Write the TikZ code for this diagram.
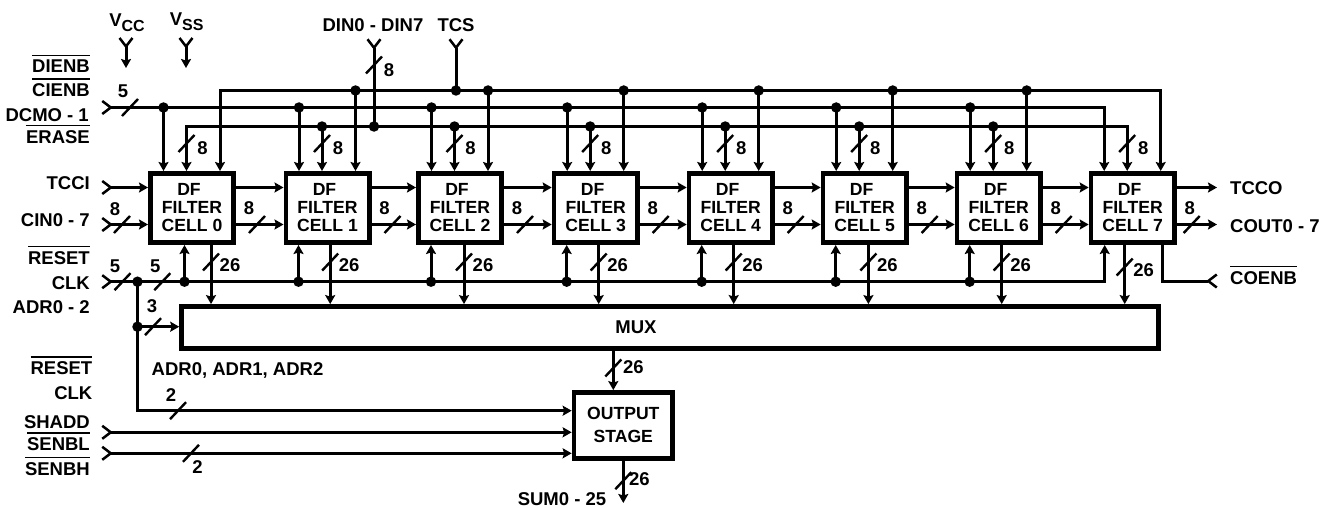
\documentclass[tikz,border=0pt]{standalone}
\usepackage{fontspec}
\setmainfont{Liberation Sans}
\usetikzlibrary{arrows.meta,positioning}

% signal name with a bar above it
\newcommand{\barsig}[1]{\vbox{\hrule height 1.6pt \vskip 4pt \hbox{#1}}}
% text of one filter cell
\newcommand{\cellname}[1]{DF\hspace*{6pt}\\FILTER\\CELL #1}
% bus width mark: name, point on the line, label offset, label
\newcommand{\busmark}[4]{%
  \coordinate (#1) at #2;
  \draw [slash] ([shift={(-8,8.5)}]#1) -- ([shift={(8,-8.5)}]#1);
  \node [sig] (#1 text) at ([shift={#3}]#1) {#4};}

\begin{document}
\begin{tikzpicture}[x=1pt, y=-1pt, node distance=134pt]
    % Define styles
    \tikzstyle{cellbox} = [rectangle, draw, line width=4.6pt, minimum width=83.4pt, minimum height=69.4pt, inner sep=0pt, align=center, font=\bfseries\fontsize{17.6}{18}\selectfont]
    \tikzstyle{bigbox} = [rectangle, draw, line width=4.6pt, inner sep=0pt, align=center, font=\bfseries\fontsize{17.6}{23}\selectfont]
    \tikzstyle{sig} = [inner sep=0pt, font=\bfseries\fontsize{18.5}{18.5}\selectfont]
    \tikzstyle{pinname} = [sig, anchor=base east]
    \tikzstyle{outname} = [sig, anchor=base west]
    \tikzstyle{junction} = [circle, fill=black, minimum size=10.5pt, inner sep=0pt, outer sep=-2.5pt]
    \tikzstyle{wire} = [line width=3pt, >={Stealth[length=9pt,width=10pt,inset=1.5pt]}]
    \tikzstyle{slash} = [line width=2.4pt]
    \tikzstyle{pinfork} = [wire, {Straight Barb[reversed,length=8.5pt,width=13pt,line width=2.5pt]}-]
    \tikzstyle{forkarrow} = [wire, {Straight Barb[reversed,length=8.5pt,width=13pt,line width=2.5pt]}->]

    \path [use as bounding box] (0,0) rectangle (1329,508);

    % Filter cells
    \node [cellbox] (cell0) at (192,208) {\cellname{0}};
    \node [cellbox, right of=cell0, node distance=135.5pt] (cell1) {\cellname{1}};
    \node [cellbox, right of=cell1, node distance=132.5pt] (cell2) {\cellname{2}};
    \node [cellbox, right of=cell2, node distance=135.7pt] (cell3) {\cellname{3}};
    \node [cellbox, right of=cell3, node distance=135pt] (cell4) {\cellname{4}};
    \node [cellbox, right of=cell4] (cell5) {\cellname{5}};
    \node [cellbox, right of=cell5] (cell6) {\cellname{6}};
    \node [cellbox, right of=cell6] (cell7) {\cellname{7}};

    % Mux and output
    \node [bigbox, minimum width=977pt, minimum height=42pt] (mux) at (670,327.4) {};
    \node [sig] (muxname) at (636,327.5) {MUX};
    \node [bigbox, minimum width=98.7pt, minimum height=66pt] (output) at (623.3,425.4) {OUTPUT\\STAGE};

    % Free ends and joins
    \coordinate (vccpin) at (126,36.7);
    \coordinate (vccend) at (126,68);
    \coordinate (vsspin) at (186,36.7);
    \coordinate (vssend) at (186,68);
    \coordinate (dinpin) at (374,38);
    \coordinate (tcspin) at (456,38);
    \coordinate (dcmopin) at (101,107.5);
    \coordinate (tccipin) at (101,187.5);
    \coordinate (cinpin) at (101,224.5);
    \coordinate (clkpin) at (101,281.7);
    \coordinate (shaddpin) at (101,432.3);
    \coordinate (senbpin) at (101,453.3);
    \coordinate (coenbpin) at (1218,281);
    \coordinate (tccoend) at (1217,187.5);
    \coordinate (coutend) at (1217,224.5);
    \coordinate (sumend) at (623.3,503);
    \coordinate (outturn) at (137.5,410.7);
    \node [junction] (tcsjoin) at (456,90.5) {};
    \node [junction] (dinjoin) at (374,126.5) {};
    \node [junction] (clkjoin) at (137.5,281.7) {};
    \node [junction] (adrjoin) at (137.5,326.7) {};

    % Top inputs of the cells
    \foreach \n in {0,...,7} {
        \coordinate (dc\n) at ([xshift=15.5pt]cell\n.north west);
        \coordinate (dn\n) at ([xshift=38.5pt]cell\n.north west);
        \coordinate (tc\n) at ([xshift=72pt]cell\n.north west);
    }
    \draw [forkarrow] (dcmopin) -| (dc7);
    \draw [wire,->] (tcsjoin) -| (tc0);
    \draw [wire,->] (tcsjoin) -| (tc7);
    \draw [wire,->] (dinjoin) -| (dn0);
    \draw [wire,->] (dinjoin) -| (dn7);
    \draw [pinfork] (tcspin) -- (tcsjoin);
    \draw [pinfork] (dinpin) -- (dinjoin);
    \foreach \n in {0,...,6} {
        \node [junction] (jd\n) at (dc\n |- dcmopin) {};
        \draw [wire,->] (jd\n) -- (dc\n);
    }
    \foreach \n in {1,...,6} {
        \node [junction] (jt\n) at (tc\n |- tcsjoin) {};
        \draw [wire,->] (jt\n) -- (tc\n);
        \node [junction] (jn\n) at (dn\n |- dinjoin) {};
        \draw [wire,->] (jn\n) -- (dn\n);
    }
    \foreach \n in {0,...,7} {
        \busmark{mn\n}{([yshift=27.5pt]dn\n)}{(16,5)}{8}
    }

    % Cell to cell
    \draw [forkarrow] (tccipin) -- (cell0.west |- tccipin);
    \draw [forkarrow] (cinpin) -- (cell0.west |- cinpin);
    \foreach \n [remember=\n as \p (initially 0)] in {1,...,7} {
        \draw [wire,->] (cell\p.east |- tccipin) -- (cell\n.west |- tccipin);
        \draw [wire,->] (cell\p.east |- cinpin) -- (cell\n.west |- cinpin);
        \busmark{mc\p}{([xshift=21pt]cell\p.east |- cinpin)}{(-8,-16)}{8}
    }
    \draw [wire,->] (cell7.east |- tccipin) -- (tccoend);
    \draw [wire,->] (cell7.east |- cinpin) -- (coutend);
    \busmark{mc7}{([xshift=15pt]cell7.east |- cinpin)}{(-2,-16)}{8}
    \busmark{mcin}{(122,224.5)}{(-7,-15)}{8}

    % Under the cells
    \foreach \n/\d in {0/36.5,1/15,2/15,3/15,4/15,5/15,6/15,7/16} {
        \coordinate (up\n) at ([xshift=\d pt]cell\n.south west);
    }
    \draw [forkarrow] (clkpin) -| (up7);
    \foreach \n in {0,...,6} {
        \node [junction] (jc\n) at (up\n |- clkpin) {};
        \draw [wire,->] (jc\n) -- (up\n);
    }
    \foreach \n/\d/\s in {0/63/17,1/46.7/17,2/48/17,3/47/17,4/47/17,5/47.7/17,6/47/17,7/36/22} {
        \coordinate (dw\n) at ([xshift=\d pt]cell\n.south west);
        \draw [wire,->] (dw\n) -- (dw\n |- mux.north);
        \busmark{ms\n}{([yshift=-\s pt]dw\n)}{(19,3)}{26}
    }
    \draw [wire, -{Straight Barb[reversed,length=8.5pt,width=13pt,line width=2.5pt]}] ([xshift=74pt]cell7.south west) |- (coenbpin);
    \busmark{mclk}{(122.5,281.7)}{(-7.5,-15)}{5}
    \busmark{mrst}{(162.3,281.7)}{(-7,-15)}{5}
    \busmark{mdcmo}{(130,107.5)}{(-7,-16.5)}{5}
    \busmark{mdin}{(374,65)}{(15,5)}{8}

    % Address and output stage
    \draw [wire] (clkjoin) -- (adrjoin);
    \draw [wire,->] (adrjoin) -- (mux.west |- adrjoin);
    \busmark{madr}{(153,326.7)}{(-1,-20.7)}{3}
    \draw [wire,->] (adrjoin) -- (outturn) -- (outturn -| output.west);
    \busmark{mout}{(178,410.7)}{(-7,-15.7)}{2}
    \draw [forkarrow] (shaddpin) -- (shaddpin -| output.west);
    \draw [forkarrow] (senbpin) -- (senbpin -| output.west);
    \busmark{msen}{(191,453.3)}{(6.5,13.4)}{2}
    \draw [wire,->] (mux.south -| output.north) ++(-10,0) coordinate (muxout) -- (muxout |- output.north);
    \busmark{mmux}{(muxout |- 0,368)}{(20,-1)}{26}
    \draw [wire,->] (output.south) -- (sumend);
    \busmark{msum}{(623.3,480.7)}{(16,-1.5)}{26}

    % Supply pins
    \draw [forkarrow] (vccpin) -- (vccend);
    \draw [forkarrow] (vsspin) -- (vssend);

    % Signal names
    \node [sig] (vccname) at (127,22.5) {V\raisebox{-4.5pt}{\fontsize{16}{16}\selectfont CC}};
    \node [sig] (vssname) at (186.7,21.7) {V\raisebox{-4.5pt}{\fontsize{16}{16}\selectfont SS}};
    \node [sig] (dinname) at (373,25) {DIN0 - DIN7};
    \node [sig] (tcsname) at (456,25) {TCS};
    \node [pinname] (dienbname) at (90,73) {\barsig{DIENB}};
    \node [pinname] (cienbname) at (90,97) {\barsig{CIENB}};
    \node [pinname] (dcmoname) at (89,121.4) {DCMO - 1};
    \node [pinname] (erasename) at (90,143.4) {\barsig{ERASE}};
    \node [pinname] (tcciname) at (90,189) {TCCI};
    \node [pinname] (cinname) at (90,226.4) {CIN0 - 7};
    \node [pinname] (resetname) at (90,264.4) {\barsig{RESET}};
    \node [pinname] (clkname) at (90,289) {CLK};
    \node [pinname] (adrname) at (90,313) {ADR0 - 2};
    \node [pinname] (resetnamei) at (92.5,374.7) {\barsig{RESET}};
    \node [pinname] (clknamei) at (92.5,399) {CLK};
    \node [pinname] (shaddname) at (90,428) {SHADD};
    \node [pinname] (senblname) at (90,450.7) {\barsig{SENBL}};
    \node [pinname] (senbhname) at (90,475.4) {\barsig{SENBH}};
    \node [sig, anchor=base west] (adrbits) at (151.5,375) {ADR0, ADR1, ADR2};
    \node [outname] (tcconame) at (1230,194.4) {TCCO};
    \node [outname] (coutname) at (1230,232.4) {COUT0 - 7};
    \node [outname] (coenbname) at (1230,284.4) {\barsig{COENB}};
    \node [sig] (sumname) at (562,499.5) {SUM0 - 25};
\end{tikzpicture}
\end{document}
